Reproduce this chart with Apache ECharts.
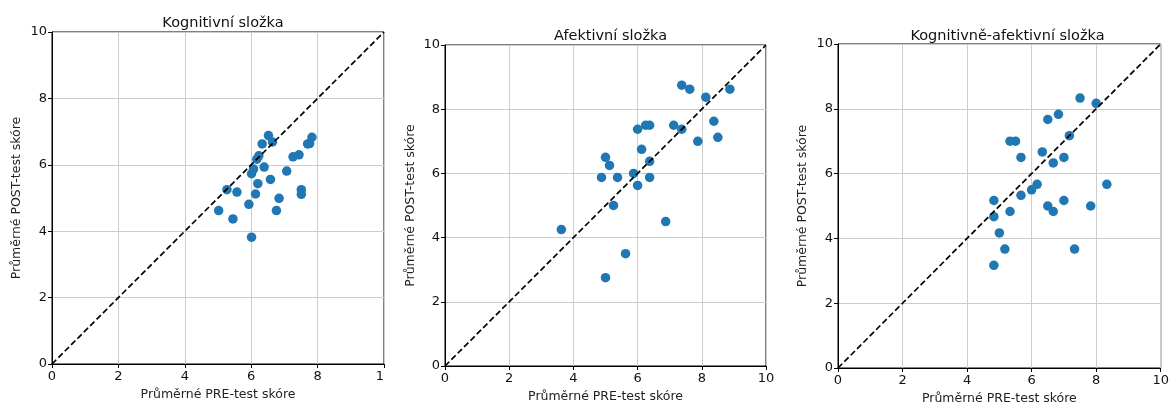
<!DOCTYPE html>
<html>
<head>
<meta charset="utf-8">
<script src="https://cdn.jsdelivr.net/npm/echarts@6/dist/echarts.min.js"></script>
<style>
html,body{margin:0;padding:0;background:#fff;}
#c{width:1172px;height:410px;}
</style>
</head>
<body>
<div id="c"></div>
<script>
// ---- Data ----
const titles = ["Kognitivní složka", "Afektivní složka", "Kognitivně-afektivní složka"];
const xAxisName = "Průměrné PRE-test skóre";
const yAxisName = "Průměrné POST-test skóre";
const tickValues = [0, 2, 4, 6, 8, 10];

const kogPre  = [5.02, 5.27, 5.57, 5.45, 5.93, 6.01, 6.01, 6.07, 6.13, 6.20, 6.17, 6.23, 6.33, 6.52, 6.64, 6.39, 6.58, 6.84, 6.76, 7.07, 7.26, 7.44, 7.51, 7.51, 7.70, 7.76, 7.83];
const kogPost = [4.62, 5.25, 5.18, 4.37, 4.81, 3.82, 5.73, 5.87, 5.12, 5.43, 6.17, 6.27, 6.63, 6.88, 6.69, 5.93, 5.56, 4.99, 4.62, 5.81, 6.24, 6.30, 5.25, 5.11, 6.63, 6.64, 6.83];

const afePre  = [3.625, 4.875, 5.0, 5.125, 5.375, 5.25, 5.0, 5.625, 5.875, 6.0, 6.0, 6.125, 6.25, 6.375, 6.375, 6.375, 6.875, 7.125, 7.375, 7.375, 7.625, 7.875, 8.125, 8.375, 8.5, 8.875];
const afePost = [4.25, 5.875, 6.5, 6.25, 5.875, 5.0, 2.75, 3.5, 6.0, 7.375, 5.625, 6.75, 7.5, 7.5, 6.375, 5.875, 4.5, 7.5, 7.375, 8.75, 8.625, 7.0, 8.375, 7.625, 7.125, 8.625];

const kaPre  = [4.83, 4.83, 4.83, 5.0, 5.17, 5.33, 5.33, 5.5, 5.67, 5.67, 6.0, 6.17, 6.33, 6.5, 6.5, 6.67, 6.67, 6.83, 7.0, 7.0, 7.17, 7.33, 7.5, 7.83, 8.0, 8.33];
const kaPost = [3.17, 4.67, 5.17, 4.17, 3.67, 4.83, 7.0, 7.0, 6.5, 5.33, 5.5, 5.67, 6.67, 7.67, 5.0, 6.33, 4.83, 7.83, 6.5, 5.17, 7.17, 3.67, 8.33, 5.0, 8.17, 5.67];

const diagonal = [[0, 0], [10, 10]];

// ---- Layout ----
const font = "DejaVu Sans";
const grids = [
  {left: 52, top: 32, width: 332, height: 332},
  {left: 445, top: 45, width: 321, height: 321},
  {left: 838, top: 44, width: 329, height: 330}
];
const titleTops = [11, 24, 24];
const xNameGaps = [23, 23, 24];
const yNameGaps = [29, 28, 29];
const pairs = [[kogPre, kogPost], [afePre, afePost], [kaPre, kaPost]];

const option = {
  animation: false,
  backgroundColor: '#fff',
  textStyle: {fontFamily: font},
  title: titles.map((t, i) => ({
    text: t,
    left: grids[i].left + grids[i].width / 2,
    top: titleTops[i],
    textAlign: 'center',
    textStyle: {fontFamily: font, fontSize: 14.5, fontWeight: 'normal', color: '#111'}
  })),
  grid: grids.map(g => Object.assign({show: true, borderColor: '#000', borderWidth: 1, backgroundColor: 'transparent'}, g)),
  xAxis: grids.map((g, i) => ({
    type: 'value', gridIndex: i, min: 0, max: 10, interval: 2,
    name: xAxisName, nameLocation: 'middle', nameGap: xNameGaps[i],
    nameTextStyle: {fontFamily: font, fontSize: 12.5, color: '#222'},
    axisLine: {show: true, onZero: false, lineStyle: {color: '#000', width: 1}},
    axisTick: {show: true, inside: false, length: 4, lineStyle: {color: '#000'}},
    axisLabel: {
      fontFamily: font, fontSize: 13, color: '#111', margin: 6,
      formatter: (v) => (i === 0 && v === 10) ? '{c|1}' : String(v),
      rich: {c: {fontFamily: font, fontSize: 13, color: '#111', padding: [0, 8, 0, 0]}}
    },
    splitLine: {show: true, lineStyle: {color: '#cccccc', width: 1}}
  })),
  yAxis: grids.map((g, i) => ({
    type: 'value', gridIndex: i, min: 0, max: 10, interval: 2,
    name: yAxisName, nameLocation: 'middle', nameGap: yNameGaps[i], nameRotate: 90,
    nameTextStyle: {fontFamily: font, fontSize: 12.5, color: '#222'},
    axisLine: {show: true, onZero: false, lineStyle: {color: '#000', width: 1}},
    axisTick: {show: true, inside: false, length: 4, lineStyle: {color: '#000'}},
    axisLabel: {fontFamily: font, fontSize: 13, color: '#111', margin: 5},
    splitLine: {show: true, lineStyle: {color: '#cccccc', width: 1}}
  })),
  series: []
};

pairs.forEach((p, i) => {
  option.series.push({
    type: 'line', xAxisIndex: i, yAxisIndex: i,
    data: diagonal, symbol: 'none', silent: true, z: 3,
    lineStyle: {color: '#000', width: 1.7, type: [6, 3]}
  });
  option.series.push({
    type: 'scatter', xAxisIndex: i, yAxisIndex: i, z: 2,
    data: p[0].map((x, k) => [x, p[1][k]]),
    symbolSize: 9.5,
    itemStyle: {color: '#1f77b4', opacity: 1}
  });
});

const chart = echarts.init(document.getElementById('c'), null, {renderer: 'canvas'});
chart.setOption(option);
</script>
</body>
</html>
